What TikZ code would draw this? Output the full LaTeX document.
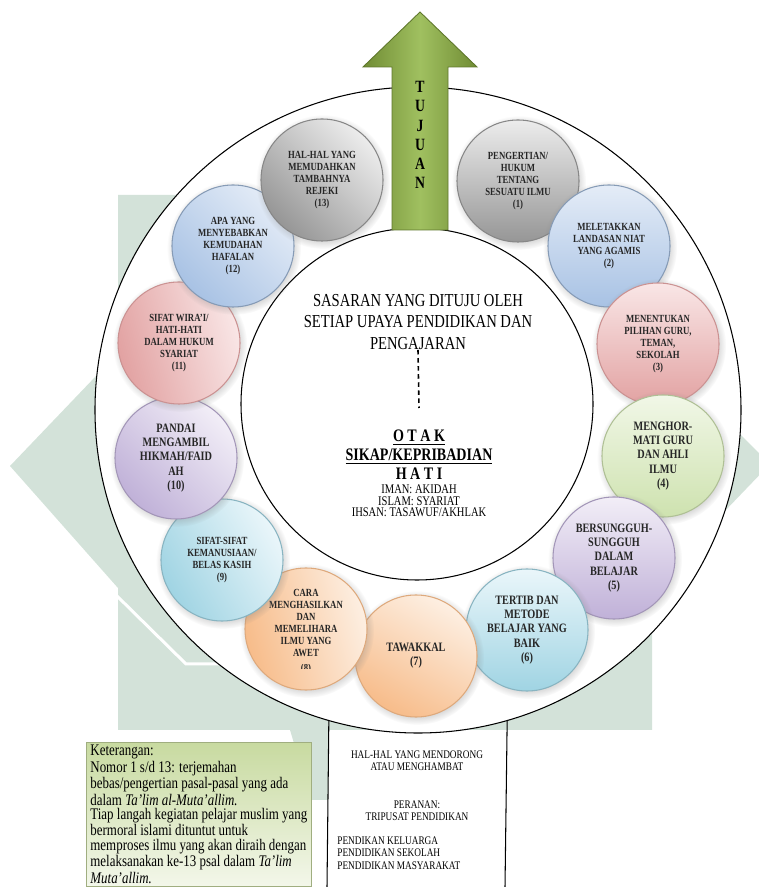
\documentclass[tikz,border=0pt]{standalone}
\usepackage{fontspec}
\setmainfont{Liberation Serif}[FakeStretch=0.8]
\usepackage{trimclip}
\usetikzlibrary{shadows}

\definecolor{tanda}{RGB}{211,226,217}
\definecolor{hijauA}{RGB}{112,140,52}
\definecolor{hijauB}{RGB}{160,192,96}
\definecolor{abuT}{RGB}{236,236,236}
\definecolor{abuG}{RGB}{150,150,150}
\definecolor{biruT}{RGB}{228,236,247}
\definecolor{biruG}{RGB}{168,194,228}
\definecolor{merahT}{RGB}{249,230,230}
\definecolor{merahG}{RGB}{226,162,162}
\definecolor{hijauT}{RGB}{241,247,231}
\definecolor{hijauG}{RGB}{206,226,175}
\definecolor{unguT}{RGB}{242,238,247}
\definecolor{unguG}{RGB}{192,177,216}
\definecolor{toskaT}{RGB}{234,246,250}
\definecolor{toskaG}{RGB}{160,212,227}
\definecolor{jinggaT}{RGB}{253,239,226}
\definecolor{jinggaG}{RGB}{247,188,138}
\definecolor{ketT}{RGB}{200,218,160}
\definecolor{ketB}{RGB}{243,247,234}

\newcommand{\kecil}{\fontsize{6.2}{6.9}\selectfont\bfseries}
\newcommand{\besar}{\fontsize{7.3}{8.1}\selectfont\bfseries}

\tikzset{
  cincin/.style={circle, draw=black, fill=white, line width=0.6pt, inner sep=0pt},
  bulat/.style={circle, minimum size=24.4mm, inner sep=0pt, align=center, text=black!85,
    font=\kecil, line width=0.6pt,
    circular drop shadow={shadow xshift=0.5pt, shadow yshift=-0.9pt, opacity=0.35}},
  abu/.style={bulat, draw=abuG!90!black, top color=abuT, bottom color=abuG},
  biru/.style={bulat, draw=biruG!80!black, top color=biruT, bottom color=biruG},
  merah/.style={bulat, draw=merahG!90!black, top color=merahT, bottom color=merahG},
  hijau/.style={bulat, draw=hijauG!85!black, top color=hijauT, bottom color=hijauG},
  ungu/.style={bulat, draw=unguG!85!black, top color=unguT, bottom color=unguG},
  toska/.style={bulat, draw=toskaG!85!black, top color=toskaT, bottom color=toskaG},
  jingga/.style={bulat, draw=jinggaG!90!black, top color=jinggaT, bottom color=jinggaG},
  panah/.style={draw=hijauA!85!black, line width=0.5pt, left color=hijauA, right color=hijauA, middle color=hijauB},
  kotakket/.style={draw=ketT!80!black, line width=0.4pt, top color=ketT, bottom color=ketB,
    minimum width=45mm, minimum height=28.8mm, inner sep=0pt, align=left,
    font=\fontsize{9.2}{8.2}\selectfont},
  teksbawah/.style={align=center, inner sep=0pt, font=\fontsize{6.6}{7}\selectfont}
}

\begin{document}
\begin{tikzpicture}[x=0.2mm, y=0.2mm]
  \useasboundingbox (0,0) rectangle (758,887);

  % logo samar di belakang
  \fill[tanda] (118,692) -- (652,692) -- (652,540) -- (770,423) -- (652,300) -- (652,157)
    -- (118,157) -- (118,299) -- (10,421) -- (118,534) -- cycle;
  \fill[tanda] (290,157) -- (328,157) -- (328,87) -- (311,87) -- cycle;
  \draw[white, line width=0.6mm] (116,292) -- (186,223) -- (420,223);

  % dua lingkaran besar
  \node[cincin, minimum size=129.2mm] (luar) at (418,477) {};
  \node[cincin, minimum size=70.4mm] (dalam) at (417,483) {};

  % panah tujuan
  \draw[panah] (392,657) -- (392,820) -- (363,820) -- (420,875) -- (477,820) -- (448,820) -- (448,657) -- cycle;
  \node[align=center, inner sep=0pt, font=\fontsize{9.8}{10.9}\selectfont\bfseries] (tujuan) at (420,752) {T\\U\\J\\U\\A\\N};

  % isi lingkaran dalam
  \node[align=center, inner sep=0pt, font=\fontsize{10.4}{12.2}\selectfont] (sasaran) at (418,565)
    {SASARAN YANG DITUJU OLEH\\SETIAP UPAYA PENDIDIKAN DAN\\PENGAJARAN};
  \coordinate (putus) at (419,479);
  \draw[line width=0.9pt, dash pattern=on 2.6pt off 2pt] (sasaran.south) -- (putus);
  \node[align=center, inner sep=0pt, font=\fontsize{10}{10.8}\selectfont\bfseries] (otak) at (419,432)
    {\underline{O T A K}\\\underline{SIKAP/KEPRIBADIAN}\\H A T I};
  \node[align=center, inner sep=0pt, font=\fontsize{7.5}{6.6}\selectfont] (hati) at (419,386)
    {IMAN: AKIDAH\\ISLAM: SYARIAT\\IHSAN: TASAWUF/AKHLAK};

  % tiga belas pasal
  \node[abu] (c1) at (518,706) {PENGERTIAN/\\HUKUM\\TENTANG\\SESUATU ILMU\\(1)};
  \node[biru] (c2) at (609,641) {MELETAKKAN\\LANDASAN NIAT\\YANG AGAMIS\\(2)};
  \node[merah] (c3) at (658,543) {MENENTUKAN\\PILIHAN GURU,\\TEMAN,\\SEKOLAH\\(3)};
  \node[hijau, font=\besar] (c4) at (663,431) {MENGHOR-\\MATI GURU\\DAN AHLI\\ILMU\\(4)};
  \node[ungu, font=\besar] (c5) at (614,329) {BERSUNGGUH-\\SUNGGUH\\DALAM\\BELAJAR\\(5)};
  \node[toska, font=\besar] (c6) at (527,257) {TERTIB DAN\\METODE\\BELAJAR YANG\\BAIK\\(6)};
  \node[jingga, shading angle=-30, font=\besar] (c7) at (416,231) {TAWAKKAL\\(7)};
  \node[jingga, shading angle=-75] (c8) at (306,258)
    {CARA\\MENGHASILKAN\\DAN\\MEMELIHARA\\ILMU YANG\\AWET\\\clipbox{0pt 3pt 0pt 0pt}{(8)}};
  \node[toska, shading angle=-60] (c9) at (222,327) {SIFAT-SIFAT\\KEMANUSIAAN/\\BELAS KASIH\\(9)};
  \node[ungu, shading angle=-45, font=\besar] (c10) at (176,429) {PANDAI\\MENGAMBIL\\HIKMAH/FAID\\AH\\(10)};
  \node[merah, shading angle=-75] (c11) at (179,544) {SIFAT WIRA’I/\\HATI-HATI\\DALAM HUKUM\\SYARIAT\\(11)};
  \node[biru, shading angle=-45] (c12) at (233,641) {APA YANG\\MENYEBABKAN\\KEMUDAHAN\\HAFALAN\\(12)};
  \node[abu, shading angle=-45] (c13) at (322,707) {HAL-HAL YANG\\MEMUDAHKAN\\TAMBAHNYA\\REJEKI\\(13)};

  % kotak bawah
  \coordinate (kaki1) at (327,0);
  \coordinate (kaki2) at (505,0);
  \draw[line width=0.6pt] (luar.-106.4) -- (kaki1);
  \draw[line width=0.6pt] (luar.-74.3) -- (kaki2);
  \node[teksbawah] (dorong) at (417,126) {HAL-HAL YANG MENDORONG\\ATAU MENGHAMBAT};
  \node[teksbawah] (peran) at (417,76) {PERANAN:\\TRIPUSAT PENDIDIKAN};
  \node[teksbawah, align=left, anchor=west] (tripusat) at (337,34)
    {PENDIKAN KELUARGA\\PENDIDIKAN SEKOLAH\\PENDIDIKAN MASYARAKAT};

  % keterangan
  \node[kotakket, anchor=north west] (ket) at (86,145)
    {Keterangan:\\
     Nomor 1 s/d 13: terjemahan\\
     bebas/pengertian pasal-pasal yang ada\\
     dalam \textit{Ta’lim al-Muta’allim.}\\
     Tiap langah kegiatan pelajar muslim yang\\
     bermoral islami dituntut untuk\\
     memproses ilmu yang akan diraih dengan\\
     melaksanakan ke-13 psal dalam \textit{Ta’lim}\\
     \textit{Muta’allim.}};
\end{tikzpicture}
\end{document}
